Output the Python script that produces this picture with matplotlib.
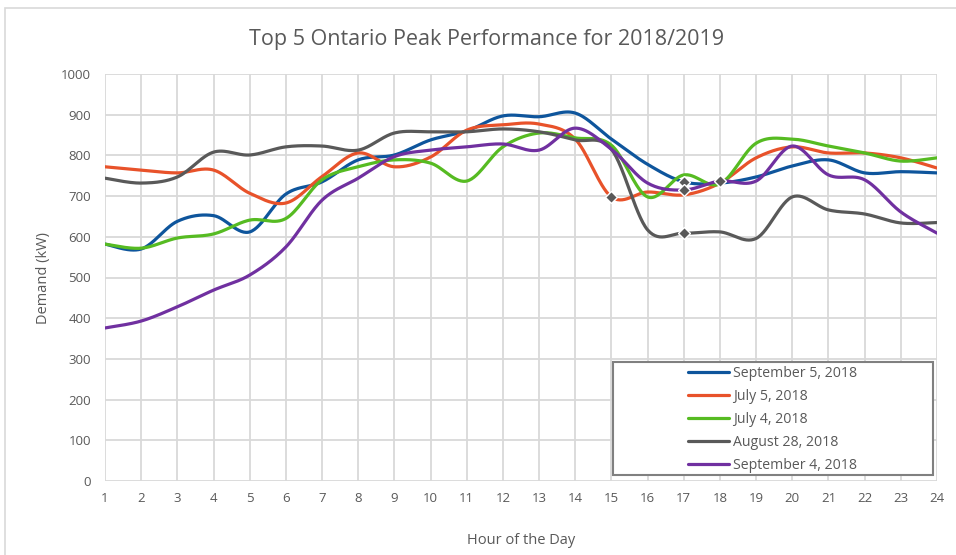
import numpy as np
import matplotlib
matplotlib.use("Agg")
import matplotlib.pyplot as plt
from matplotlib.patches import Rectangle

hours = list(range(1, 25))
sep5 = [582, 570, 638, 652, 612, 705, 735, 789, 801, 838, 860, 897, 895, 904, 840, 778, 735, 732, 747, 774, 789, 757, 760, 757]
jul5 = [772, 764, 757, 764, 707, 683, 748, 806, 772, 796, 862, 875, 877, 840, 698, 710, 703, 732, 794, 821, 806, 806, 794, 769]
jul4 = [582, 572, 597, 607, 641, 645, 740, 772, 789, 781, 737, 821, 855, 843, 825, 698, 752, 730, 830, 840, 823, 806, 786, 794]
aug28 = [744, 732, 747, 808, 801, 821, 823, 813, 855, 858, 858, 865, 858, 838, 815, 617, 609, 612, 596, 698, 666, 656, 634, 635]
sep4 = [376, 393, 428, 469, 506, 575, 690, 744, 797, 813, 821, 828, 813, 867, 815, 732, 715, 737, 737, 823, 752, 740, 661, 609]
labels = ["September 5, 2018", "July 5, 2018", "July 4, 2018", "August 28, 2018", "September 4, 2018"]
series = [sep5, jul5, jul4, aug28, sep4]
colors = ["#0E559C", "#E8522A", "#56BB22", "#595959", "#7030A0"]
# highlighted points (series index, hour)
marked = [(1, 15), (0, 17), (4, 17), (3, 17), (4, 18)]


def smooth(x, y, n=30):
    x = np.asarray(x, float)
    y = np.asarray(y, float)
    xs, ys = [], []
    m = len(x)
    for i in range(m - 1):
        p0 = (x[i - 1] if i > 0 else x[i], y[i - 1] if i > 0 else y[i])
        p1 = (x[i], y[i])
        p2 = (x[i + 1], y[i + 1])
        p3 = (x[i + 2] if i + 2 < m else x[i + 1], y[i + 2] if i + 2 < m else y[i + 1])
        c1 = (p1[0] + (p2[0] - p0[0]) / 6, p1[1] + (p2[1] - p0[1]) / 6)
        c2 = (p2[0] - (p3[0] - p1[0]) / 6, p2[1] - (p3[1] - p1[1]) / 6)
        t = np.linspace(0, 1, n, endpoint=(i == m - 2))
        b0 = (1 - t) ** 3
        b1 = 3 * (1 - t) ** 2 * t
        b2 = 3 * (1 - t) * t ** 2
        b3 = t ** 3
        xs.append(b0 * p1[0] + b1 * c1[0] + b2 * c2[0] + b3 * p2[0])
        ys.append(b0 * p1[1] + b1 * c1[1] + b2 * c2[1] + b3 * p2[1])
    return np.concatenate(xs), np.concatenate(ys)


W, H = 956, 555
plt.rcParams['font.family'] = ['Open Sans', 'DejaVu Sans']
fig = plt.figure(figsize=(W / 100, H / 100), dpi=100)
ax = fig.add_axes([105 / W, 1 - 481 / H, (937 - 105) / W, (481 - 74) / H])

# chart area border
fig.patches.append(Rectangle((5 / W, -0.01), 1.0, 1 - 8 / H + 0.01, transform=fig.transFigure,
                             fill=False, edgecolor="#d9d9d9", linewidth=1.2))

for vals, c, lab in zip(series, colors, labels):
    sx, sy = smooth(hours, vals)
    ax.plot(sx, sy, color=c, linewidth=2.3, label=lab, solid_capstyle='round', zorder=3)

for si, h in marked:
    ax.plot([h], [series[si][h - 1]], marker='D', markersize=6.5, color="#595959",
            markeredgecolor='white', markeredgewidth=1.0, linestyle='none', zorder=4)

ax.set_xlim(1, 24)
ax.set_ylim(0, 1000)
ax.set_xticks(hours)
ax.set_yticks(range(0, 1001, 100))
ax.grid(True, color="#d9d9d9", linewidth=1.3)
ax.set_axisbelow(True)
for s in ax.spines.values():
    s.set_visible(False)
ax.tick_params(axis='both', length=0, labelsize=9.5, colors="#595959", pad=8)
ax.tick_params(axis='y', pad=10)

ax.set_xlabel("Hour of the Day", fontsize=10.5, color="#595959", labelpad=20)
ax.set_ylabel("Demand (kW)", fontsize=10.5, color="#595959", labelpad=7)
fig.text(487 / W, 1 - 40 / H, "Top 5 Ontario Peak Performance for 2018/2019",
         ha='center', va='center', fontsize=15.5, color="#595959")

# legend frame
ax.add_patch(Rectangle((613 / W, 1 - 475 / H), (933 - 613) / W, (475 - 362) / H,
                       transform=fig.transFigure, facecolor='white', edgecolor="#808080",
                       linewidth=1.5, zorder=5, clip_on=False))
leg = ax.legend(loc='upper left', bbox_to_anchor=(688 / W, 1 - 366 / H),
                bbox_transform=fig.transFigure,
                frameon=False, fontsize=10.2, handlelength=2.9, handletextpad=0.3,
                borderpad=0.0, labelspacing=0.56, borderaxespad=0)
leg.set_zorder(6)
for t in leg.get_texts():
    t.set_color("#595959")

fig.savefig("out.png", dpi=100)
